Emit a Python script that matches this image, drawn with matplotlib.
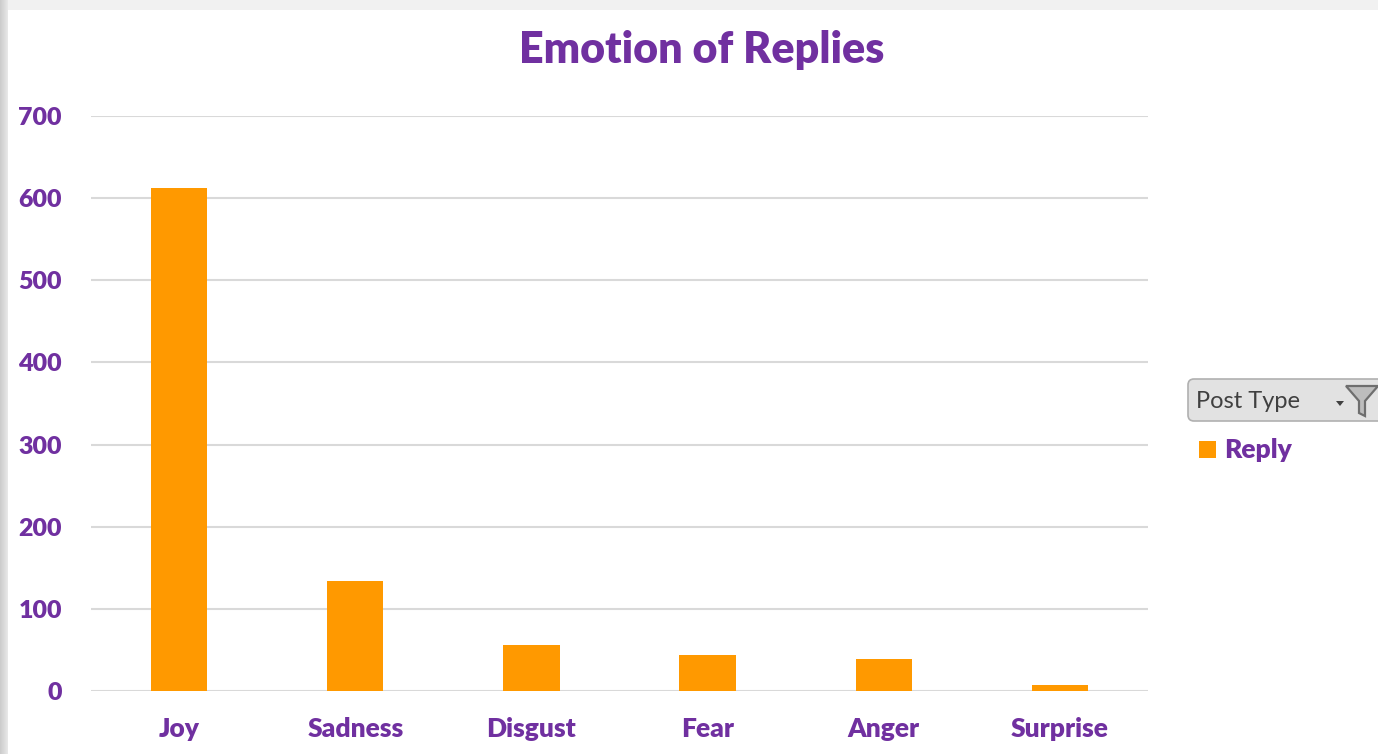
import matplotlib
matplotlib.use("Agg")
import matplotlib.pyplot as plt
from matplotlib.patches import Rectangle, FancyBboxPatch, Polygon
import numpy as np

categories = ["Joy", "Sadness", "Disgust", "Fear", "Anger", "Surprise"]
replies = [612, 134, 56, 44, 39, 7]
y_ticks = [0, 100, 200, 300, 400, 500, 600, 700]

PURPLE = "#7030A0"
ORANGE = "#FF9900"
GRID = "#D9D9D9"
FONT = "Lato"
WEIGHT = "heavy"

W, H = 1378, 754
fig = plt.figure(figsize=(W / 100, H / 100), dpi=100)
fig.patch.set_facecolor("#EDEEEE")


def fx(px):
    return px / W


def fy(py):
    return 1 - py / H


# white chart area inside the grey window frame
bg = fig.add_axes([0, 0, 1, 1], zorder=-5)
bg.set_xlim(0, W)
bg.set_ylim(H, 0)
bg.axis("off")
for i in range(8):
    g = 0.80 + 0.015 * i
    bg.add_patch(Rectangle((i, 0), 1, H, color=(g, g, g), lw=0))
bg.add_patch(Rectangle((8, 0), W - 8, 10, color="#F1F1F1", lw=0))
bg.add_patch(Rectangle((8, 10), W - 8, H - 10, color="white", lw=0))

# legend / filter button
bg.add_patch(FancyBboxPatch((1188, 379), 200, 42,
                            boxstyle="round,pad=0,rounding_size=6",
                            facecolor="#E2E2E2", edgecolor="#B0B0B0", lw=1.2))
bg.text(1196, 401, "Post Type", fontsize=17, color="#404040", family=FONT,
        va="center", ha="left")
bg.add_patch(Polygon([[1336, 401], [1344, 401], [1340, 406]], closed=True,
                     color="#404040", lw=0))
bg.add_patch(Polygon([[1346, 386], [1378, 386], [1365, 401], [1365, 416],
                      [1359, 413], [1359, 401]], closed=True,
                     facecolor="#BDBDBD", edgecolor="#6E6E6E", lw=1.6))
bg.add_patch(Rectangle((1199, 441), 17, 17, color=ORANGE, lw=0))
bg.text(1224, 450, "Reply", fontsize=19, color=PURPLE, family=FONT,
        fontweight=WEIGHT, va="center", ha="left")

# plot area
left, right, top, bottom = 91, 1148, 116, 691
ax = fig.add_axes([fx(left), fy(bottom), fx(right - left), fy(top) - fy(bottom)])
ax.set_facecolor("none")
x = np.arange(len(categories))
ax.bar(x, replies, width=0.32, color=ORANGE, zorder=3)
ax.set_xlim(-0.5, len(categories) - 0.5)
ax.set_ylim(0, 700)
ax.set_yticks(y_ticks)
ax.set_yticklabels([str(v) for v in y_ticks])
ax.set_xticks(x)
ax.set_xticklabels(categories)
for s in ax.spines.values():
    s.set_visible(False)
ax.grid(axis="y", color=GRID, lw=1.5, zorder=0)
ax.tick_params(axis="both", length=0, colors=PURPLE)
ax.tick_params(axis="y", pad=21)
ax.tick_params(axis="x", pad=19)
for lab in ax.get_yticklabels():
    lab.set_fontsize(18)
for lab in ax.get_xticklabels():
    lab.set_fontsize(19)
for lab in ax.get_yticklabels() + ax.get_xticklabels():
    lab.set_fontweight(WEIGHT)
    lab.set_family(FONT)
    lab.set_color(PURPLE)

fig.text(fx(702), fy(50), "Emotion of Replies", fontsize=31, fontweight=WEIGHT,
         color=PURPLE, family=FONT, ha="center", va="center")

fig.savefig("out.png", dpi=100)
